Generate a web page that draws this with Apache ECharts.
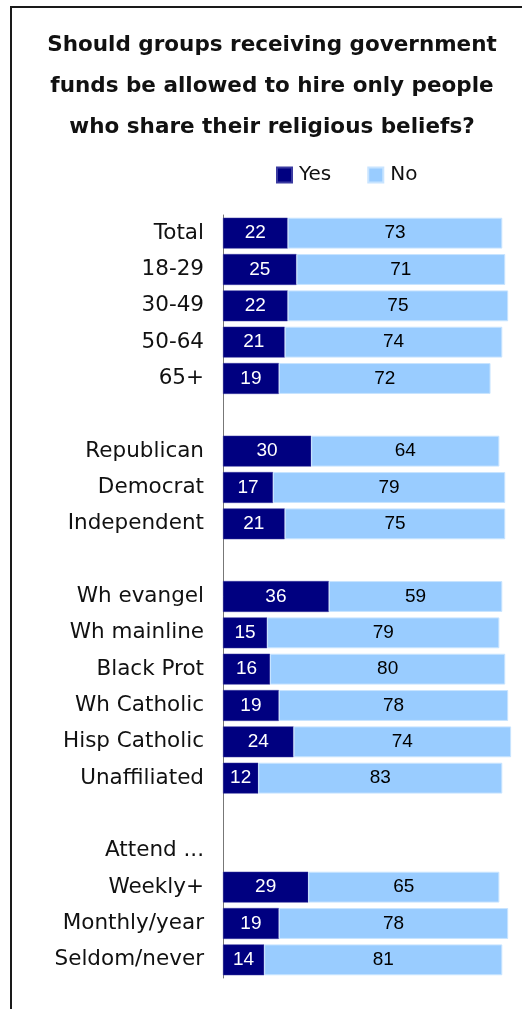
<!DOCTYPE html>
<html><head><meta charset="utf-8">
<script src="https://cdn.jsdelivr.net/npm/echarts@6/dist/echarts.min.js"></script>
<style>html,body{margin:0;padding:0;background:#fff}#c{width:522px;height:1009px}</style>
</head><body><div id="c"></div>
<script>
const categories = ['Total','18-29','30-49','50-64','65+','',
  'Republican','Democrat','Independent',' ',
  'Wh evangel','Wh mainline','Black Prot','Wh Catholic','Hisp Catholic','Unaffiliated','  ',
  'Attend ...','Weekly+','Monthly/year','Seldom/never'];
const yesValues = [22,25,22,21,19,null,30,17,21,null,36,15,16,19,24,12,null,null,29,19,14];
const noValues  = [73,71,75,74,72,null,64,79,75,null,59,79,80,78,74,83,null,null,65,78,81];
const titleLines = ['Should groups receiving government','funds be allowed to hire only people','who share their religious beliefs?'];

const chart = echarts.init(document.getElementById('c'), null, {renderer:'canvas'});
chart.setOption({
  animation:false,
  backgroundColor:'#fff',
  title:{
    text:titleLines.join('\n'), left:272, top:25, textAlign:'center', padding:0,
    textStyle:{fontFamily:'DejaVu Sans',fontWeight:'bold',fontSize:21.5,lineHeight:41,color:'#111'}
  },
  legend:{
    data:['Yes','No'], left:276, top:165, padding:0, itemWidth:15, itemHeight:15, itemGap:36,
    icon:'rect',
    textStyle:{fontFamily:'DejaVu Sans',fontSize:20,color:'#111',padding:[0,0,0,2]}
  },
  grid:{left:223,right:5,top:215,bottom:31,containLabel:false},
  xAxis:{type:'value',min:0,max:100,show:false},
  yAxis:{
    type:'category',data:categories,inverse:true,
    axisTick:{show:false},
    axisLine:{show:true,lineStyle:{color:'#777',width:1}},
    axisLabel:{fontFamily:'DejaVu Sans',fontSize:21.5,color:'#111',margin:19}
  },
  series:[
    {name:'Yes',type:'bar',stack:'a',data:yesValues,barWidth:'85%',
     itemStyle:{color:'#000080',borderColor:'#3a3aa0',borderWidth:0.5},
     label:{show:true,position:'inside',color:'#fff',fontFamily:'Liberation Sans',fontSize:19,
       formatter:p=>p.value==null?'':p.value}},
    {name:'No',type:'bar',stack:'a',data:noValues,barWidth:'85%',
     itemStyle:{color:'#99CCFF',borderColor:'#c8e4ff',borderWidth:1},
     label:{show:true,position:'inside',color:'#000',fontFamily:'Liberation Sans',fontSize:19,
       formatter:p=>p.value==null?'':p.value}}
  ],
  graphic:[{type:'polyline',silent:true,
    shape:{points:[[11,1009],[11,7],[522,7]]},
    style:{stroke:'#1a1a1a',lineWidth:2,fill:null}}]
});
</script></body></html>
